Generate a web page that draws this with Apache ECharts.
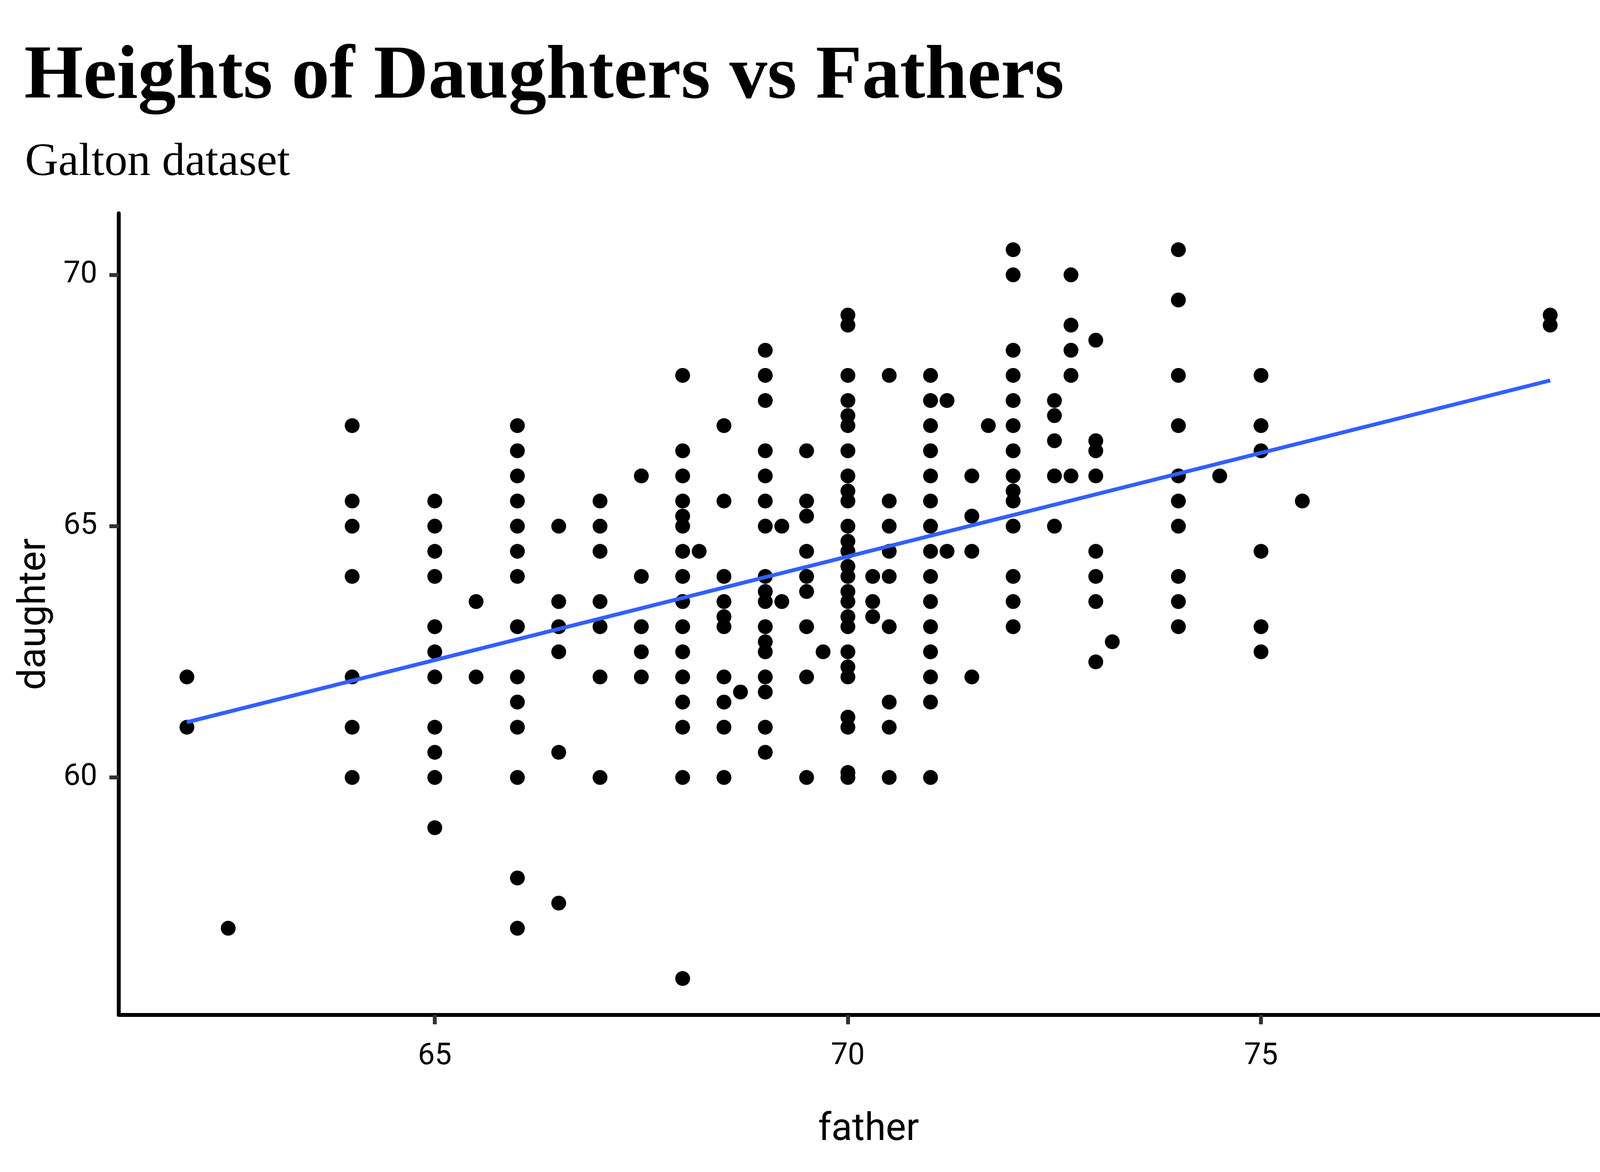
<!DOCTYPE html>
<html>
<head>
<meta charset="utf-8">
<title>Heights of Daughters vs Fathers</title>
<script src="https://cdn.jsdelivr.net/npm/echarts@6/dist/echarts.min.js"></script>
<style>
  html, body { margin: 0; padding: 0; background: #fff; }
  #chart { width: 4200px; height: 3000px; }
</style>
</head>
<body>
<div id="chart"></div>
<script>
// father heights (one entry per column of points)
const fathers = [62, 62.5, 64, 65, 65.5, 66, 66.5, 67, 67.5, 68, 68.2, 68.5, 68.7, 69, 69.2, 69.5, 69.7,
  70, 70.3, 70.5, 71, 71.2, 71.5, 71.7, 72, 72.5, 72.7, 73, 73.2, 74, 74.5, 75, 75.5, 78.5];

// daughter heights for each father column above
const daughters = [
  [62, 61],
  [57],
  [67, 65.5, 65, 64, 62, 61, 60],
  [65.5, 65, 64.5, 64, 63, 62.5, 62, 61, 60.5, 60, 59],
  [63.5, 62],
  [67, 66.5, 66, 65.5, 65, 64.5, 64, 63, 62, 61.5, 61, 60, 58, 57],
  [65, 63.5, 63, 62.5, 60.5, 57.5],
  [65.5, 65, 64.5, 63.5, 63, 62, 60],
  [66, 64, 63, 62.5, 62],
  [68, 66.5, 66, 65.5, 65.2, 65, 64.5, 64, 63.5, 63, 62.5, 62, 61.5, 61, 60, 56],
  [64.5],
  [67, 65.5, 64, 63.5, 63.2, 63, 62, 61.5, 61, 60],
  [61.7],
  [68.5, 68, 67.5, 66.5, 66, 65.5, 65, 64, 63.7, 63.5, 63, 62.7, 62.5, 62, 61.7, 61, 60.5],
  [65, 63.5],
  [66.5, 65.5, 65.2, 64.5, 64, 63.7, 63, 62, 60],
  [62.5],
  [69.2, 69, 68, 67.5, 67.2, 67, 66.5, 66, 65.7, 65.5, 65, 64.7, 64.5, 64.2, 64, 63.7, 63.5, 63.2, 63,
    62.5, 62.2, 62, 61.2, 61, 60.1, 60],
  [64, 63.5, 63.2],
  [68, 65.5, 65, 64.5, 64, 63, 61.5, 61, 60],
  [68, 67.5, 67, 66.5, 66, 65.5, 65, 64.5, 64, 63.5, 63, 62.5, 62, 61.5, 60],
  [67.5, 64.5],
  [66, 65.2, 64.5, 62],
  [67],
  [70.5, 70, 68.5, 68, 67.5, 67, 66.5, 66, 65.7, 65.5, 65, 64, 63.5, 63],
  [67.5, 67.2, 66.7, 66, 65],
  [70, 69, 68.5, 68, 66],
  [68.7, 66.7, 66.5, 66, 64.5, 64, 63.5, 62.3],
  [62.7],
  [70.5, 69.5, 68, 67, 66, 65.5, 65, 64, 63.5, 63],
  [66],
  [68, 67, 66.5, 64.5, 63, 62.5],
  [65.5],
  [69.2, 69]
];

// linear fit at the ends of the father range
const fitFather = [62, 78.5];
const fitDaughter = [61.1, 67.9];

const xTicks = [65, 70, 75];
const yTicks = [60, 65, 70];

const points = [];
fathers.forEach((f, i) => daughters[i].forEach(d => points.push([f, d])));
const fitLine = fitFather.map((f, i) => [f, fitDaughter[i]]);

const labelFont = "'Liberation Sans Narrow', 'Roboto', sans-serif";
const serifFont = "'Liberation Serif', 'DejaVu Serif', serif";

const chart = echarts.init(document.getElementById('chart'));
chart.setOption({
  animation: false,
  backgroundColor: '#fff',
  title: [
    {
      text: 'Heights of Daughters vs Fathers',
      left: 62,
      top: 103,
      padding: 0,
      textStyle: { fontFamily: serifFont, fontWeight: 'bold', fontSize: 194, color: '#000' }
    },
    {
      text: 'Galton dataset',
      left: 64,
      top: 358,
      padding: 0,
      textStyle: { fontFamily: serifFont, fontWeight: 'normal', fontSize: 118, color: '#000' }
    }
  ],
  grid: { left: 304, right: 57, top: 546, bottom: 402, containLabel: false },
  xAxis: {
    type: 'value',
    min: 61.175,
    max: 79.325,
    name: 'father',
    nameLocation: 'middle',
    nameGap: 246,
    nameTextStyle: { fontFamily: labelFont, fontSize: 98, color: '#000' },
    axisLine: { onZero: false, lineStyle: { color: '#000', width: 10 } },
    axisTick: { customValues: xTicks, length: 24, lineStyle: { color: '#333', width: 10 } },
    axisLabel: { customValues: xTicks, margin: 68, fontFamily: labelFont, fontSize: 77, color: '#000' },
    splitLine: { show: false }
  },
  yAxis: {
    type: 'value',
    min: 55.275,
    max: 71.225,
    name: 'daughter',
    nameLocation: 'middle',
    nameGap: 165,
    nameTextStyle: { fontFamily: labelFont, fontSize: 98, color: '#000' },
    axisLine: { onZero: false, lineStyle: { color: '#000', width: 10 } },
    axisTick: { customValues: yTicks, length: 24, lineStyle: { color: '#333', width: 10 } },
    axisLabel: { customValues: yTicks, margin: 55, fontFamily: labelFont, fontSize: 77, color: '#000' },
    splitLine: { show: false }
  },
  series: [
    {
      type: 'scatter',
      data: points,
      symbol: 'circle',
      symbolSize: 38,
      itemStyle: { color: '#000', opacity: 1 },
      z: 2
    },
    {
      type: 'line',
      data: fitLine,
      showSymbol: false,
      symbol: 'none',
      lineStyle: { color: '#3060FF', width: 10 },
      z: 3
    }
  ]
});
</script>
</body>
</html>
